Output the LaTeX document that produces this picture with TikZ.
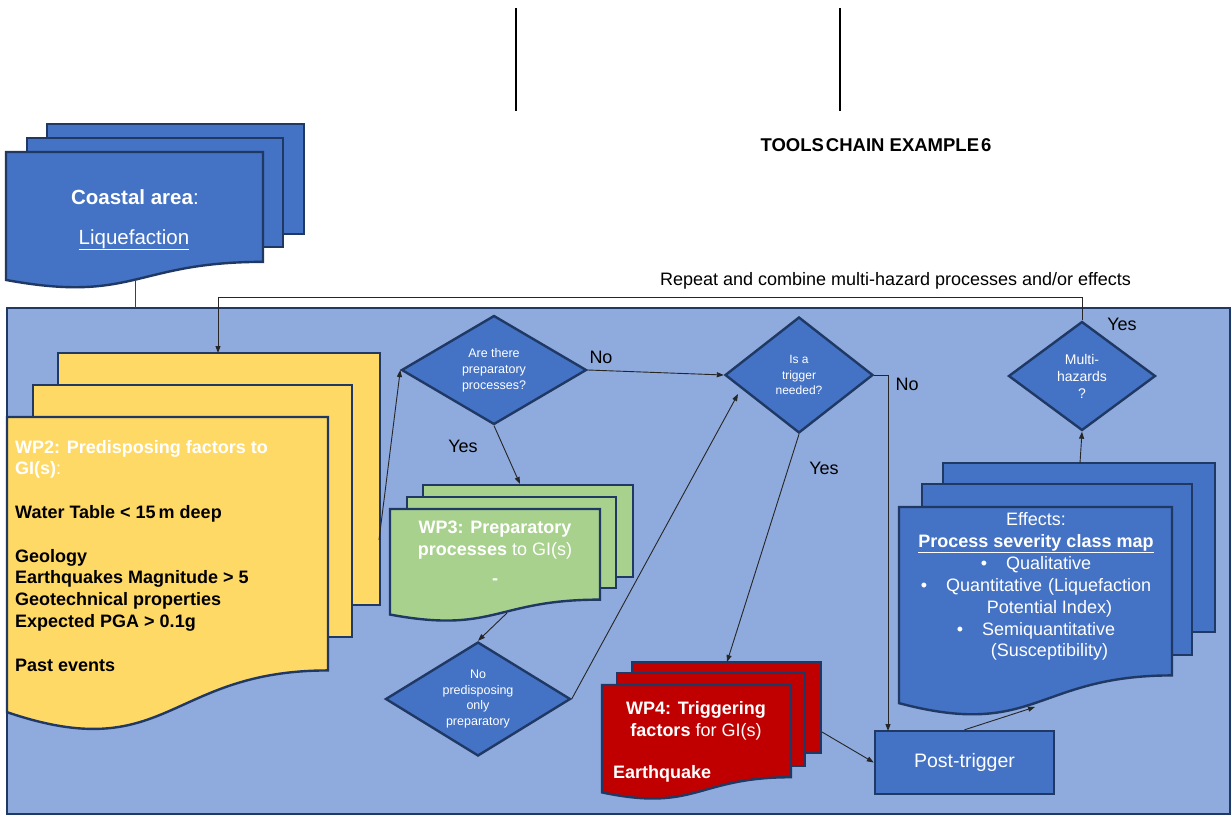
\documentclass[tikz,border=0pt]{standalone}
\usepackage{fontspec}
\setmainfont{Liberation Sans}
\usetikzlibrary{arrows.meta,shapes.geometric}

\definecolor{navy}{HTML}{1F3864}
\definecolor{panelblue}{HTML}{8FAADC}
\definecolor{midblue}{HTML}{4472C4}
\definecolor{docyellow}{HTML}{FFD966}
\definecolor{docgreen}{HTML}{A9D18E}
\definecolor{docred}{HTML}{C00000}

\newcommand{\fsz}[2]{\fontsize{#1}{#2}\selectfont}
% front page of a stack: fill, left x, top y, right x, height (wavy lower edge)
\newcommand{\docsheet}[5]{%
  \path[sheet,fill=#1] (#2,#3) -- (#4,#3) -- (#4,{#3+0.802*#5})
    .. controls ({(#2+#4)/2},{#3+0.802*#5}) and ({(#2+#4)/2},{#3+1.107*#5}) ..
    (#2,{#3+0.934*#5}) -- cycle;}

\tikzset{
  sheet/.style={draw=navy,line width=2.4pt,line join=miter},
  decision/.style={diamond,draw=navy,line width=2.4pt,fill=midblue,text=white,
    align=center,inner sep=1pt,aspect=1.7},
  link/.style={draw=black!85,line width=0.9pt,-{Triangle[length=7pt,width=5pt]}},
  tie/.style={draw=black!75,line width=0.9pt},
  answer/.style={font=\fsz{18}{20},inner sep=0},
  sheettext/.style={text=white,font=\fsz{18}{21.8},inner sep=0}
}

\begin{document}
\begin{tikzpicture}[x=1pt,y=-1pt]
\useasboundingbox (0,0) rectangle (1232,816);
\fill[white] (0,0) rectangle (1232,816);

% header rules and title
\draw[line width=2.4pt] (516,8) -- (516,111);
\draw[line width=2.4pt] (840,8) -- (840,111);
\node[anchor=base,font=\bfseries\fsz{18.5}{20},inner sep=0] (title) at (876,151)
  {TOOLS\hspace{2pt}CHAIN EXAMPLE\hspace{2pt}6};

% coastal area stack
\path[sheet,fill=midblue] (47,124) rectangle (304,234);
\path[sheet,fill=midblue] (27,138) rectangle (283,247);
\docsheet{midblue}{6}{152}{263}{137}
\node[anchor=base,text=white,font=\fsz{20.5}{24},inner sep=0] (coastal) at (135,204)
  {\textbf{Coastal area}:};
\node[anchor=base,text=white,font=\fsz{20.5}{24},inner sep=0] (hazard) at (134,244)
  {\underline{Liquefaction}};
\coordinate (coastalfoot) at (135,281);

% main panel
\node[draw=navy,line width=2.4pt,fill=panelblue,minimum width=1223pt,minimum height=506pt,
  anchor=north west,inner sep=0,outer sep=0] (panel) at (7,308) {};
\draw[tie] (coastalfoot) -- (coastalfoot |- panel.north);

% WP2 stack (multi-line text nodes are placed by their last baseline)
\path[sheet,fill=docyellow] (58,353) rectangle (380,605);
\path[sheet,fill=docyellow] (33,385) rectangle (352,637);
\docsheet{docyellow}{7}{417}{328}{316}
\node[anchor=base west,align=left,font=\bfseries\fsz{18}{21.8},inner sep=0] (wp2) at (15,671)
  {\textcolor{white}{WP2: Predisposing factors to}\\
   \textcolor{white}{GI(s)\mdseries:}\\[21.8pt]
   Water Table < 15\,m deep\\[21.8pt]
   Geology\\
   Earthquakes Magnitude > 5\\
   Geotechnical properties\\
   Expected PGA > 0.1g\\[21.8pt]
   Past events};
\coordinate (wp2out) at (379,540);
\coordinate (wp2in) at (218,353);

% WP3 stack
\path[sheet,fill=docgreen] (423,485) rectangle (633,577);
\path[sheet,fill=docgreen] (407,497) rectangle (616,588);
\docsheet{docgreen}{390}{509}{600}{113}
\node[anchor=base,align=center,sheettext] (wp3) at (495,584.8)
  {\textbf{WP3: Preparatory}\\ \textbf{processes} to GI(s)\\[7.7pt] \textbf{-}};
\coordinate (wp3in) at (520,484);
\coordinate (wp3out) at (507,613);

% WP4 stack
\path[sheet,fill=docred] (632,662) rectangle (821,753);
\path[sheet,fill=docred] (617,673) rectangle (805,766);
\docsheet{docred}{602}{685}{791}{115}
\node[anchor=base,align=center,sheettext] (wp4) at (696,736.3)
  {\textbf{WP4: Triggering}\\ \textbf{factors} for GI(s)};
\node[anchor=base west,sheettext,font=\bfseries\fsz{18}{21.8}] (quake) at (613,778.5) {Earthquake};
\coordinate (wp4in) at (727,662);
\coordinate (wp4out) at (822,732);

% effects stack
\path[sheet,fill=midblue] (943,463) rectangle (1215,632);
\path[sheet,fill=midblue] (922,484) rectangle (1192,655);
\docsheet{midblue}{899}{507}{1172}{210}
\node[anchor=base,align=center,text=white,font=\fsz{18}{21.9},inner sep=0] (effects) at (1036,656.9)
  {Effects:\\
   \underline{\textbf{Process severity class map}}\\
   \textbullet\hspace{19pt}Qualitative\\
   \textbullet\hspace{19pt}Quantitative\hspace{6pt}(Liquefaction\\
   \hspace*{27pt}Potential Index)\\
   \textbullet\hspace{19pt}Semiquantitative\\
   \hspace*{27pt}(Susceptibility)};
\coordinate (effin) at (1035,707);
\coordinate (effout) at (1080,463);

% post-trigger box
\node[draw=navy,line width=2.4pt,fill=midblue,text=white,font=\fsz{19.5}{22},
  minimum width=179pt,minimum height=63pt,inner sep=0] (post) at (964.5,762.5) {Post-trigger};

% decisions
\node[decision,font=\fsz{12.5}{16},minimum width=185pt,minimum height=109pt] (q1) at (494,370)
  {Are there\\preparatory\\processes?};
\node[decision,font=\fsz{12}{15.5},minimum width=148pt,minimum height=116pt] (q2) at (799,375)
  {Is a\\trigger\\needed?};
\node[decision,font=\fsz{12.5}{15.5},minimum width=185pt,minimum height=114pt] (q3) at (478,699)
  {No\\predisposing\\only\\preparatory};
\node[decision,font=\fsz{14}{17},minimum width=147pt,minimum height=109pt] (mh) at (1082,376)
  {Multi-\\hazards\\?};
\coordinate (q2side) at (738,394);
\coordinate (drop) at (888,731);
\coordinate (loopcorner) at (218,297);

% answers
\node[answer] (noq1) at (601,357) {No};
\node[answer] (yesq1) at (463,446) {Yes};
\node[answer] (noq2) at (907,384) {No};
\node[answer] (yesq2) at (824,468) {Yes};
\node[answer] (yesmh) at (1122,324) {Yes};

% loop back label
\node[anchor=base,font=\fsz{18}{20},inner sep=0] (repeatlbl) at (895.5,285)
  {Repeat and combine multi-hazard processes and/or effects};

% connectors
\draw[link] (mh.north) |- (loopcorner) -- (wp2in);
\draw[link] (wp2out) -- (q1.west);
\draw[link] (q1.east) -- (q2.west);
\draw[link] (q1.south) -- (wp3in);
\draw[link] (wp3out) -- (q3.north);
\draw[link] (q3.east) -- (q2side);
\draw[link] (q2.east) -| (drop);
\draw[link] (q2.south) -- (wp4in);
\draw[link] (wp4out) -- (post.west);
\draw[link] (post.north) -- (effin);
\draw[link] (effout) -- (mh.south);
\end{tikzpicture}
\end{document}
